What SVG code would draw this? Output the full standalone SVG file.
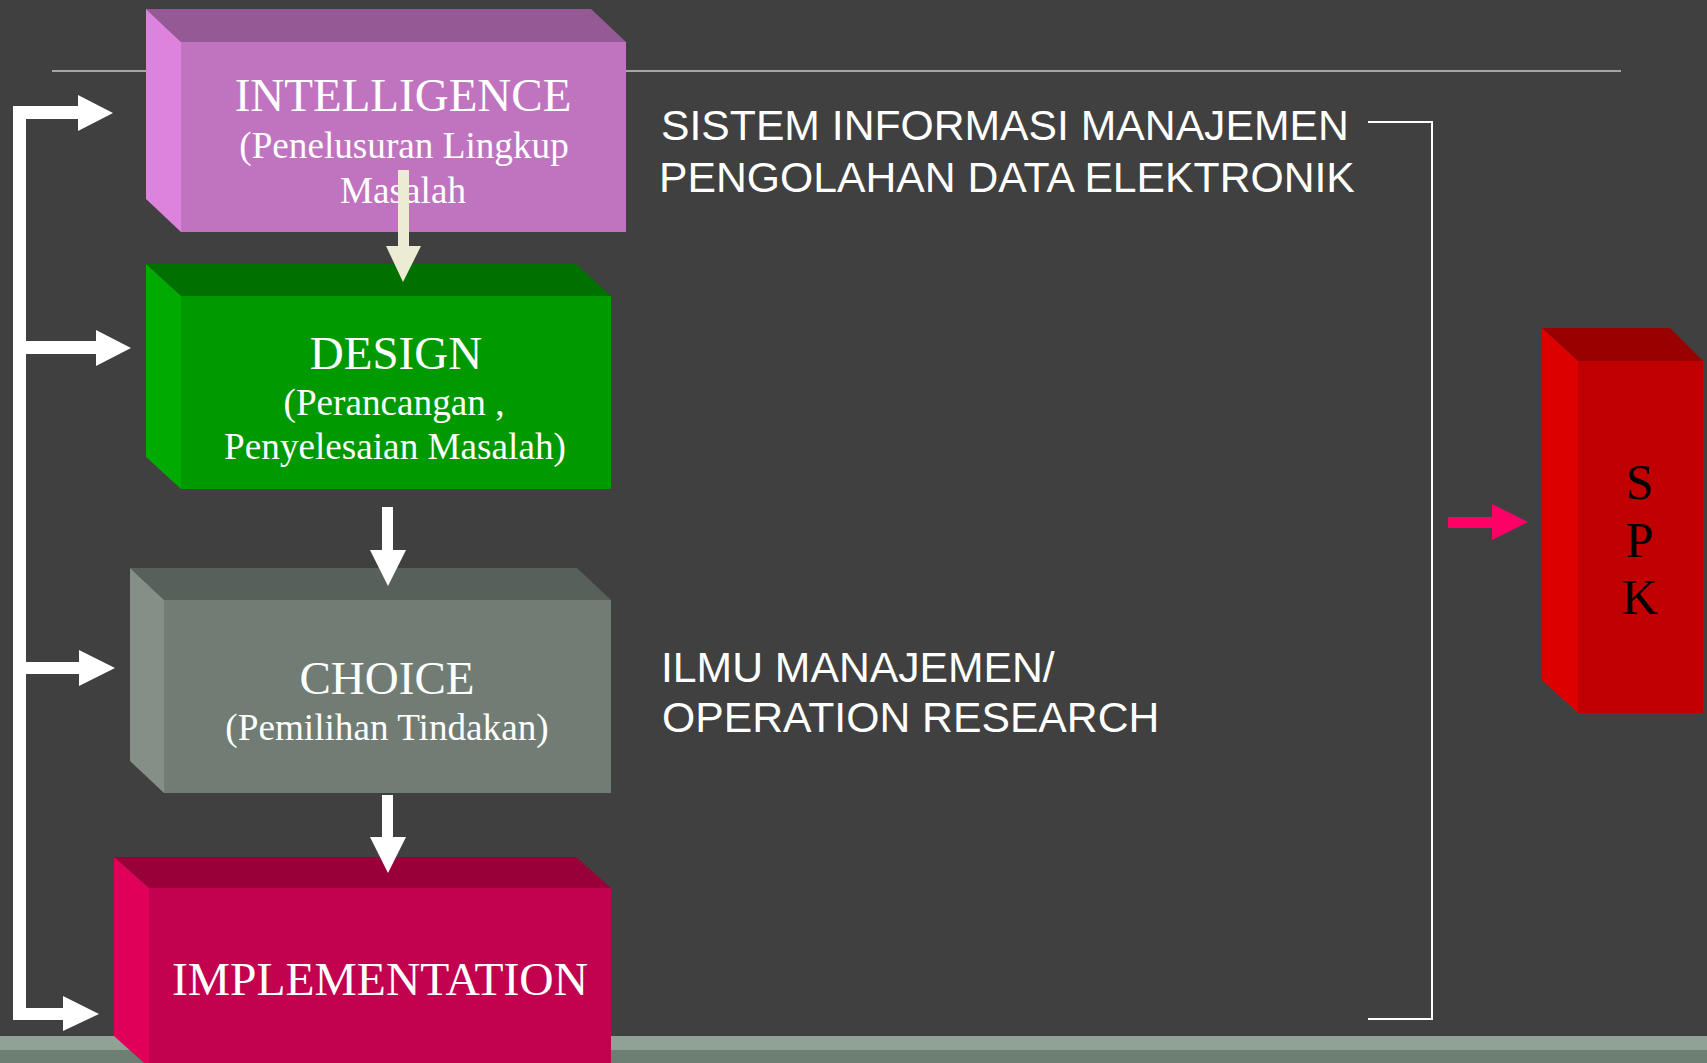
<svg xmlns="http://www.w3.org/2000/svg" width="1707" height="1063" viewBox="0 0 1707 1063">
<style>
.ttl{font-family:"Liberation Serif","Times New Roman",serif;font-size:47px;fill:#ffffff;text-anchor:middle}
.sub{font-family:"Liberation Serif","Times New Roman",serif;font-size:37.2px;fill:#ffffff;text-anchor:middle}
.side{font-family:"Liberation Sans",Arial,sans-serif;font-size:42.7px;fill:#ffffff}
.spk{font-family:"Liberation Serif","Times New Roman",serif;font-size:50px;fill:#000000;text-anchor:middle}
.wh{fill:#ffffff}
</style>
<rect x="0" y="0" width="1707" height="1063" fill="#404040"/>
<rect x="0" y="1036" width="1707" height="14" fill="#90A296"/>
<rect x="0" y="1050" width="1707" height="13" fill="#6D7E73"/>
<line x1="52" y1="71" x2="1621" y2="71" stroke="#C8C8C8" stroke-width="1.5"/>

<g id="intelligence">
<polygon points="146,9 591,9 626,42 181,42" fill="#955A95"/>
<polygon points="146,9 181,42 181,232 146,199" fill="#DD82DD"/>
<rect x="181" y="42" width="445" height="190" fill="#C074C0"/>
<text class="ttl" x="403" y="111">INTELLIGENCE</text>
<text class="sub" x="404" y="158">(Penelusuran Lingkup</text>
<text class="sub" x="403" y="203">Masalah</text>
</g>

<g id="design">
<polygon points="146,264 576,264 611,296 181,296" fill="#007000"/>
<polygon points="146,264 181,296 181,489 146,457" fill="#00AA00"/>
<rect x="181" y="296" width="430" height="193" fill="#009900"/>
<text class="ttl" x="396" y="369">DESIGN</text>
<text class="sub" x="394" y="415">(Perancangan ,</text>
<text class="sub" x="395" y="459">Penyelesaian Masalah)</text>
</g>

<g id="choice">
<polygon points="130,568 577,568 611,600 164,600" fill="#57605A"/>
<polygon points="130,568 164,600 164,793 130,761" fill="#848F88"/>
<rect x="164" y="600" width="447" height="193" fill="#717D74"/>
<text class="ttl" x="387" y="694">CHOICE</text>
<text class="sub" x="387" y="740">(Pemilihan Tindakan)</text>
</g>

<g id="implementation">
<polygon points="114,857 576,857 611,888 149,888" fill="#99003A"/>
<polygon points="114,857 149,888 149,1063 144,1063 114,1036" fill="#E0005A"/>
<rect x="149" y="888" width="462" height="175" fill="#C2024E"/>
<text class="ttl" x="380" y="995" textLength="416" lengthAdjust="spacingAndGlyphs">IMPLEMENTATION</text>
</g>

<g id="spk">
<polygon points="1542,328 1670,328 1703,361 1578,361" fill="#990000"/>
<polygon points="1542,328 1578,361 1578,713 1542,680" fill="#DD0000"/>
<rect x="1578" y="361" width="125" height="352" fill="#C00000"/>
<text class="spk" x="1640" y="499">S</text>
<text class="spk" x="1640" y="557">P</text>
<text class="spk" x="1640" y="614">K</text>
</g>

<g id="labels">
<text class="side" x="661" y="140">SISTEM INFORMASI MANAJEMEN</text>
<text class="side" x="659" y="192">PENGOLAHAN DATA ELEKTRONIK</text>
<text class="side" x="661" y="682">ILMU MANAJEMEN/</text>
<text class="side" x="662" y="732">OPERATION RESEARCH</text>
</g>

<g id="connectors">
<polygon points="398,170 409,170 409,246 421,246 403,282 386,246 398,246" fill="#ECECD4"/>
<polygon points="382,507 393,507 393,550 406,550 388,586 370,550 382,550" class="wh"/>
<polygon points="382,795 393,795 393,837 406,837 388,873 370,837 382,837" class="wh"/>
<rect x="13" y="106" width="13" height="914" class="wh"/>
<polygon points="13,106 78,106 78,95 113,113 78,131 78,119 13,119" class="wh"/>
<polygon points="13,341 96,341 96,330 131,348 96,366 96,354 13,354" class="wh"/>
<polygon points="13,662 79,662 79,650 115,668 79,686 79,674 13,674" class="wh"/>
<polygon points="13,1008 63,1008 63,996 99,1014 63,1031 63,1020 13,1020" class="wh"/>
<polyline points="1368,122 1432,122 1432,1019 1368,1019" fill="none" stroke="#ffffff" stroke-width="2"/>
<polygon points="1448,517 1492,517 1492,504 1528,522 1492,540 1492,528 1448,528" fill="#FF0066"/>
</g>
</svg>
